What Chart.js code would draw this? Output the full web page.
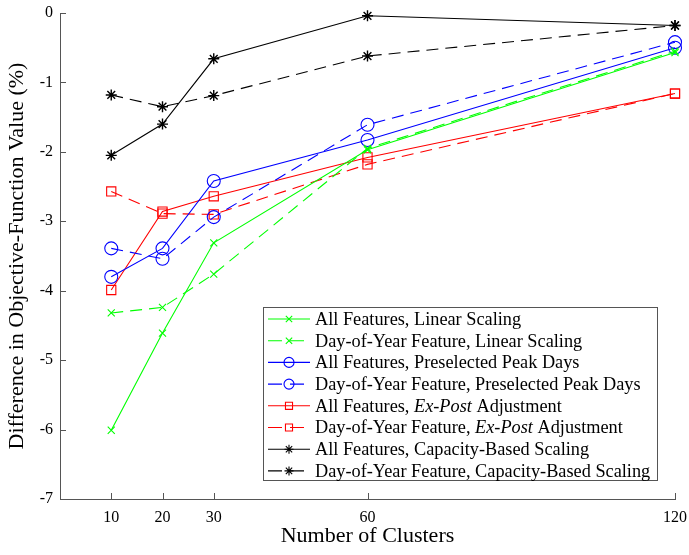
<!DOCTYPE html>
<html>
<head>
<meta charset="utf-8">
<script src="https://cdn.jsdelivr.net/npm/chart.js@4.4.1/dist/chart.umd.min.js"></script>
<style>
    body { margin: 0; background: #fff; }
    #wrap { width: 689px; height: 555px; }
</style>
</head>
<body>
<div id="wrap"><canvas id="clusterChart" width="689" height="555"></canvas></div>
<script>
// Data
const clusters = [10, 20, 30, 60, 120];
const xTicks = [10, 20, 30, 60, 120];
const yTicks = [0, -1, -2, -3, -4, -5, -6, -7];

const allLinear   = [-6.01, -4.61, -3.31, -1.97, -0.57];
const doyLinear   = [-4.32, -4.24, -3.76, -1.95, -0.55];
const allPeak     = [-3.80, -3.39, -2.42, -1.83, -0.50];
const doyPeak     = [-3.39, -3.54, -2.94, -1.61, -0.42];
const allExPost   = [-3.99, -2.86, -2.64, -2.08, -1.16];
const doyExPost   = [-2.57, -2.89, -2.90, -2.18, -1.16];
const allCapacity = [-2.05, -1.60, -0.66, -0.04, -0.18];
const doyCapacity = [-1.18, -1.35, -1.19, -0.62, -0.18];

// legend labels, pieces in italics marked with a flag
const legendLabels = [
    [['All Features, Linear Scaling', false]],
    [['Day-of-Year Feature, Linear Scaling', false]],
    [['All Features, Preselected Peak Days', false]],
    [['Day-of-Year Feature, Preselected Peak Days', false]],
    [['All Features, ', false], ['Ex-Post', true], [' Adjustment', false]],
    [['Day-of-Year Feature, ', false], ['Ex-Post', true], [' Adjustment', false]],
    [['All Features, Capacity-Based Scaling', false]],
    [['Day-of-Year Feature, Capacity-Based Scaling', false]]
];

const GREEN = '#00ff00';
const BLUE = '#0000ff';
const RED = '#ff0000';
const BLACK = '#000000';
const DASH = [12, 7];
const FONT = '"Liberation Serif", "DejaVu Serif", serif';

function series(values, color, style, radius, dashed) {
    return {
        data: clusters.map((c, i) => ({ x: c, y: values[i] })),
        borderColor: color,
        borderWidth: 1.1,
        borderDash: dashed ? DASH : [],
        pointStyle: style,
        pointRadius: radius,
        pointBorderColor: color,
        pointBackgroundColor: 'rgba(0,0,0,0)',
        pointBorderWidth: style === 'star' ? 1.4 : 1.1,
        tension: 0,
        fill: false,
        clip: false
    };
}

const datasets = [
    series(allLinear, GREEN, 'crossRot', 5, false),
    series(doyLinear, GREEN, 'crossRot', 5, true),
    series(allPeak, BLUE, 'circle', 6.5, false),
    series(doyPeak, BLUE, 'circle', 6.5, true),
    series(allExPost, RED, 'rect', 6.5, false),
    series(doyExPost, RED, 'rect', 6.5, true),
    series(allCapacity, BLACK, 'star', 5.5, false),
    series(doyCapacity, BLACK, 'star', 5.5, true)
];

// Inward tick marks + the boxed legend with mixed italic text
const decorPlugin = {
    id: 'decor',
    afterDraw(chart) {
        const ctx = chart.ctx;
        const area = chart.chartArea;
        const xs = chart.scales.x;
        const ys = chart.scales.y;
        ctx.save();
        ctx.strokeStyle = '#555';
        ctx.lineWidth = 1;
        ctx.beginPath();
        xTicks.forEach(v => {
            const px = Math.round(xs.getPixelForValue(v)) + 0.5;
            ctx.moveTo(px, area.bottom);
            ctx.lineTo(px, area.bottom - 6);
        });
        yTicks.forEach(v => {
            const py = Math.round(ys.getPixelForValue(v)) + 0.5;
            ctx.moveTo(area.left, py);
            ctx.lineTo(area.left + 6, py);
        });
        ctx.stroke();

        // legend box
        const box = { left: 263.5, top: 307.5, right: 657.5, bottom: 480.5 };
        ctx.fillStyle = '#fff';
        ctx.fillRect(box.left, box.top, box.right - box.left, box.bottom - box.top);
        ctx.strokeStyle = '#555';
        ctx.strokeRect(box.left, box.top, box.right - box.left, box.bottom - box.top);

        const rowStart = 319;
        const rowGap = 21.7;
        datasets.forEach((ds, i) => {
            const y = rowStart + i * rowGap;
            ctx.save();
            ctx.strokeStyle = ds.borderColor;
            ctx.lineWidth = 1.1;
            ctx.setLineDash(ds.borderDash.length ? [14, 8] : []);
            ctx.beginPath();
            ctx.moveTo(268, y);
            ctx.lineTo(310, y);
            ctx.stroke();
            ctx.setLineDash([]);
            ctx.fillStyle = 'rgba(0,0,0,0)';
            Chart.helpers.drawPoint(ctx, {
                pointStyle: ds.pointStyle,
                radius: ds.pointStyle === 'circle' ? 5 : ds.pointStyle === 'rect' ? 5 : 4.5,
                rotation: 0,
                borderWidth: ds.pointBorderWidth
            }, 289, y);
            ctx.restore();

            let tx = 315;
            ctx.fillStyle = '#000';
            ctx.textBaseline = 'middle';
            ctx.textAlign = 'left';
            legendLabels[i].forEach(([txt, italic]) => {
                ctx.font = (italic ? 'italic ' : '') + '18.3px ' + FONT;
                ctx.fillText(txt, tx, y + 1);
                tx += ctx.measureText(txt).width;
            });
        });
        ctx.restore();
    }
};

const ctx = document.getElementById('clusterChart').getContext('2d');
const clusterChart = new Chart(ctx, {
    type: 'line',
    data: { datasets: datasets },
    options: {
        responsive: false,
        animation: false,
        layout: { padding: { top: 13, right: 14, left: 0, bottom: 0 } },
        plugins: {
            legend: { display: false },
            tooltip: { enabled: false }
        },
        scales: {
            x: {
                type: 'linear',
                min: 0,
                max: 120,
                afterBuildTicks: scale => { scale.ticks = xTicks.map(v => ({ value: v })); },
                afterFit: scale => {
                    scale.height = 56;
                    scale.paddingLeft = 0;
                    scale.paddingRight = 0;
                },
                grid: { display: false, drawTicks: false },
                border: { display: true, color: '#555', width: 1 },
                ticks: {
                    color: '#000',
                    padding: 9,
                    maxRotation: 0,
                    font: { family: FONT, size: 16 }
                },
                title: {
                    display: true,
                    text: 'Number of Clusters',
                    color: '#000',
                    padding: { top: 0, bottom: 6 },
                    font: { family: FONT, size: 22 }
                }
            },
            y: {
                min: -7,
                max: 0,
                afterBuildTicks: scale => { scale.ticks = yTicks.map(v => ({ value: v })); },
                afterFit: scale => {
                    scale.width = 60;
                    scale.paddingTop = 0;
                    scale.paddingBottom = 0;
                },
                grid: { display: false, drawTicks: false },
                border: { display: true, color: '#555', width: 1 },
                ticks: {
                    color: '#000',
                    padding: 7,
                    callback: v => String(v),
                    font: { family: FONT, size: 16 }
                },
                title: {
                    display: true,
                    text: 'Difference in Objective-Function Value (%)',
                    color: '#000',
                    padding: { top: 4, bottom: 0 },
                    font: { family: FONT, size: 22 }
                }
            }
        }
    },
    plugins: [decorPlugin]
});
</script>
</body>
</html>
